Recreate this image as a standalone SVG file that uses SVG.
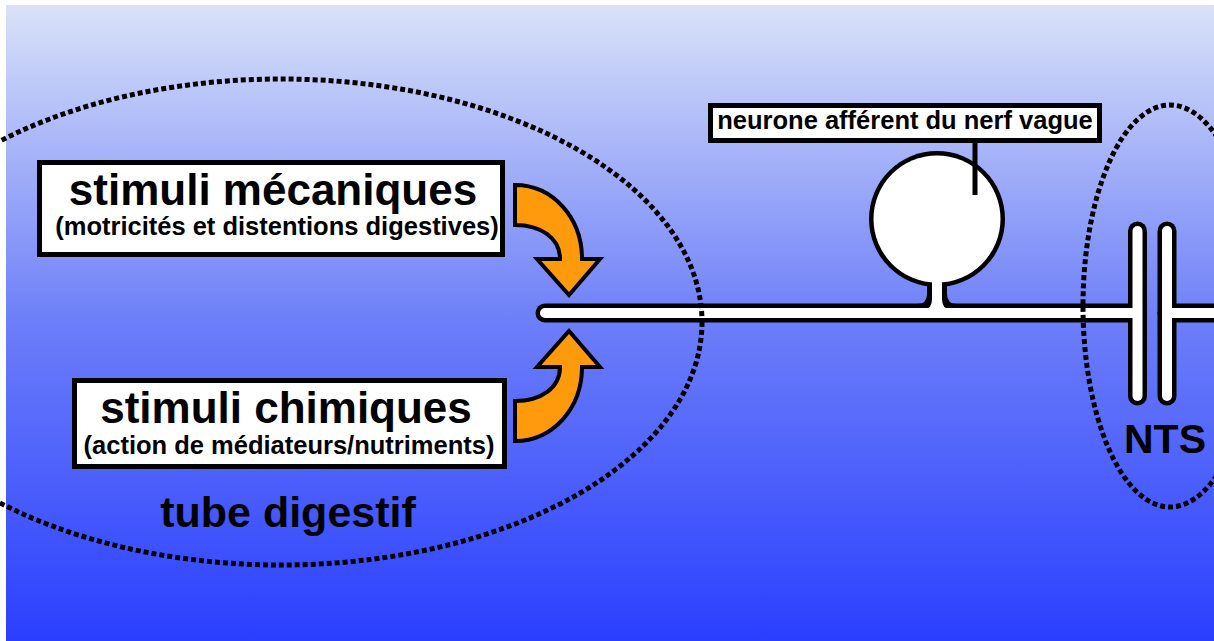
<svg xmlns="http://www.w3.org/2000/svg" width="1214" height="641" viewBox="0 0 1214 641">
<defs>
<linearGradient id="bg" x1="0" y1="0" x2="0" y2="1">
<stop offset="0" stop-color="#d9e2f8"/>
<stop offset="0.5" stop-color="#6c7ef8"/>
<stop offset="1" stop-color="#2a3fff"/>
</linearGradient>
<style>
text{font-family:"Liberation Sans",Arial,sans-serif;font-weight:bold;fill:#000}
.box{fill:#fff;stroke:#000;stroke-width:5}
.dot{fill:none;stroke:#000;stroke-width:5;stroke-dasharray:5 3}
.arrow{fill:#ff9a0d;stroke:#000;stroke-width:4;stroke-linejoin:miter}
.ob{stroke:#000;fill:none;stroke-linecap:round}
.iw{stroke:#fff;fill:none;stroke-linecap:round}
</style>
</defs>
<rect x="6" y="5" width="1208" height="636" fill="url(#bg)"/>

<g id="neuron">
<g id="neuron-outline">
<line class="ob" x1="545" y1="313" x2="1137" y2="313" stroke-width="19"/>
<line class="ob" x1="1167" y1="313" x2="1230" y2="313" stroke-width="19"/>
<line class="ob" x1="1137.5" y1="231" x2="1137.5" y2="396" stroke-width="19"/>
<line class="ob" x1="1167" y1="231" x2="1167" y2="396" stroke-width="19"/>
<circle cx="937" cy="219" r="68" fill="#000"/>
<line x1="937" y1="270" x2="937" y2="313" stroke="#000" stroke-width="20"/>
<path d="M917,304 Q927,304 927,294 L947,294 Q947,304 957,304 Z" fill="#000"/>
</g>
<g id="neuron-fill">
<line class="iw" x1="545" y1="313" x2="1137" y2="313" stroke-width="10"/>
<line class="iw" x1="1167" y1="313" x2="1230" y2="313" stroke-width="10"/>
<line class="iw" x1="1137.5" y1="231" x2="1137.5" y2="396" stroke-width="10"/>
<line class="iw" x1="1167" y1="231" x2="1167" y2="396" stroke-width="10"/>
<circle cx="937" cy="219" r="63.5" fill="#fff"/>
<line x1="937" y1="270" x2="937" y2="313" stroke="#fff" stroke-width="10"/>
<path d="M924,309 Q932,309 932,299 L942,299 Q942,309 950,309 Z" fill="#fff"/>
</g>
</g>

<g id="tube-digestif">
<ellipse class="dot" cx="281" cy="322" rx="421" ry="243"/>
<text x="288" y="527" font-size="43" text-anchor="middle">tube digestif</text>
</g>

<g id="nts">
<ellipse class="dot" cx="1170" cy="306" rx="87" ry="201" stroke-width="4.5" stroke-dasharray="4.5 3"/>
<text x="1165" y="453" font-size="41" text-anchor="middle">NTS</text>
</g>

<g id="label-neurone">
<line x1="975" y1="140" x2="975" y2="195" stroke="#000" stroke-width="5"/>
<rect class="box" x="710.5" y="105.5" width="389" height="35"/>
<text x="905" y="129" font-size="25.5" text-anchor="middle">neurone afférent du nerf vague</text>
</g>

<g id="stimuli-mecaniques">
<rect class="box" x="39.5" y="162.5" width="463" height="92"/>
<text x="273" y="205" font-size="44" text-anchor="middle">stimuli mécaniques</text>
<text x="277" y="235" font-size="25.5" text-anchor="middle">(motricités et distentions digestives)</text>
</g>

<g id="stimuli-chimiques">
<rect class="box" x="74.5" y="380.5" width="430" height="86"/>
<text x="286" y="423" font-size="44" text-anchor="middle">stimuli chimiques</text>
<text x="289" y="454" font-size="25.5" text-anchor="middle">(action de médiateurs/nutriments)</text>
</g>

<g id="connectors">
<path class="arrow" d="M515,185 C553,185 582,218 582,259 L600,259 L569,295 L537,259 L560,259 C560,238 541,225 515,225 Z"/>
<path class="arrow" d="M515,441 C553,441 582,408 582,367 L600,367 L569,331 L537,367 L560,367 C560,388 541,401 515,401 Z"/>
</g>
</svg>
